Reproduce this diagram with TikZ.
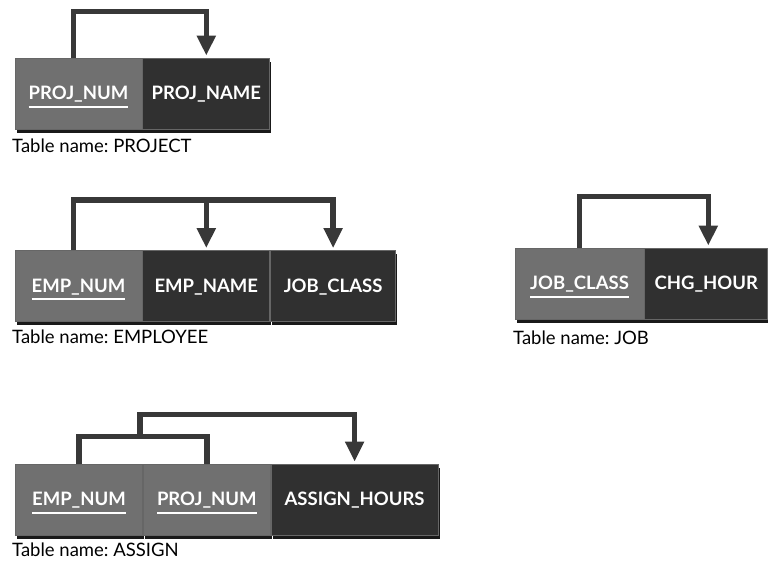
\documentclass[tikz,border=0pt]{standalone}
\usepackage{fontspec}
\setmainfont{Lato}
\usepackage{xcolor}
\usepackage{tikz}
\usetikzlibrary{positioning,arrows.meta,shadows}
\definecolor{keygray}{HTML}{707070}
\definecolor{attgray}{HTML}{303030}
\definecolor{linkgray}{HTML}{383838}
\newcommand{\keyfield}[1]{\setbox0\hbox{#1}\usebox0\llap{\rule[-8pt]{\wd0}{2.2pt}}}
\tikzset{
  cell/.style={draw=black!60, line width=0.8pt, fill=attgray, text=white,
    minimum width=127pt, minimum height=71pt, inner sep=0pt,
    text height=13pt, text depth=0pt,
    font=\fontsize{18.5}{20}\selectfont\bfseries,
    drop shadow={shadow xshift=1.5pt, shadow yshift=-4pt, fill=black, opacity=0.9}},
  keycell/.style={cell, fill=keygray},
  link/.style={draw=linkgray, line width=5.5pt, line join=miter},
  dep/.style={link, -{Triangle[width=18pt,length=20pt]}, shorten >=2pt},
  caption/.style={anchor=base west, inner sep=0pt, font=\fontsize{18.5}{20}\selectfont\frenchspacing}
}
\begin{document}
\begin{tikzpicture}[x=1pt,y=1pt]
\useasboundingbox (0,0) rectangle (768,561);
%% PROJECT
\node[keycell] (projnum) at (78.5,467.5) {\keyfield{PROJ\_NUM}};
\node[cell, right=0pt of projnum] (projname) {PROJ\_NAME};
\node[caption] (projcap) at (12,408) {Table name: PROJECT};
\draw[dep] ([xshift=-5pt]projnum.north) -- ++(0,46) -| (projname.north);
%% EMPLOYEE
\node[keycell] (empnum) at (78.5,275) {\keyfield{EMP\_NUM}};
\node[cell, right=0pt of empnum] (empname) {EMP\_NAME};
\node[cell, minimum width=125pt, right=0pt of empname] (empjob) {JOB\_CLASS};
\node[caption] (empcap) at (12,217) {Table name: EMPLOYEE};
\draw[dep] ([xshift=-5pt]empnum.north) -- ++(0,50) coordinate (empbar) -| (empjob.north);
\draw[dep] (empbar -| empname.north) -- (empname.north);
%% JOB
\node[keycell, minimum width=129pt] (jobclass) at (579.5,277.5) {\keyfield{JOB\_CLASS}};
\node[cell, minimum width=123pt, right=0pt of jobclass] (jobchg) {CHG\_HOUR};
\node[caption] (jobcap) at (513,216) {Table name: JOB};
\draw[dep] (jobclass.north) -- ++(0,51) -| ([xshift=2pt]jobchg.north);
%% ASSIGN
\node[keycell] (asgemp) at (79,61.5) {\keyfield{EMP\_NUM}};
\node[keycell, right=0pt of asgemp] (asgproj) {\keyfield{PROJ\_NUM}};
\node[cell, minimum width=167pt, right=0pt of asgproj] (asghours) {ASSIGN\_HOURS};
\node[caption] (asgcap) at (12,4) {Table name: ASSIGN};
\draw[link] (asgemp.north) -- ++(0,27) coordinate (asgbar) -| (asgproj.north);
\draw[dep] ([xshift=-3pt]asgbar -| asgemp.north east) -- ++(0,22) -| (asghours.north);
\end{tikzpicture}
\end{document}
